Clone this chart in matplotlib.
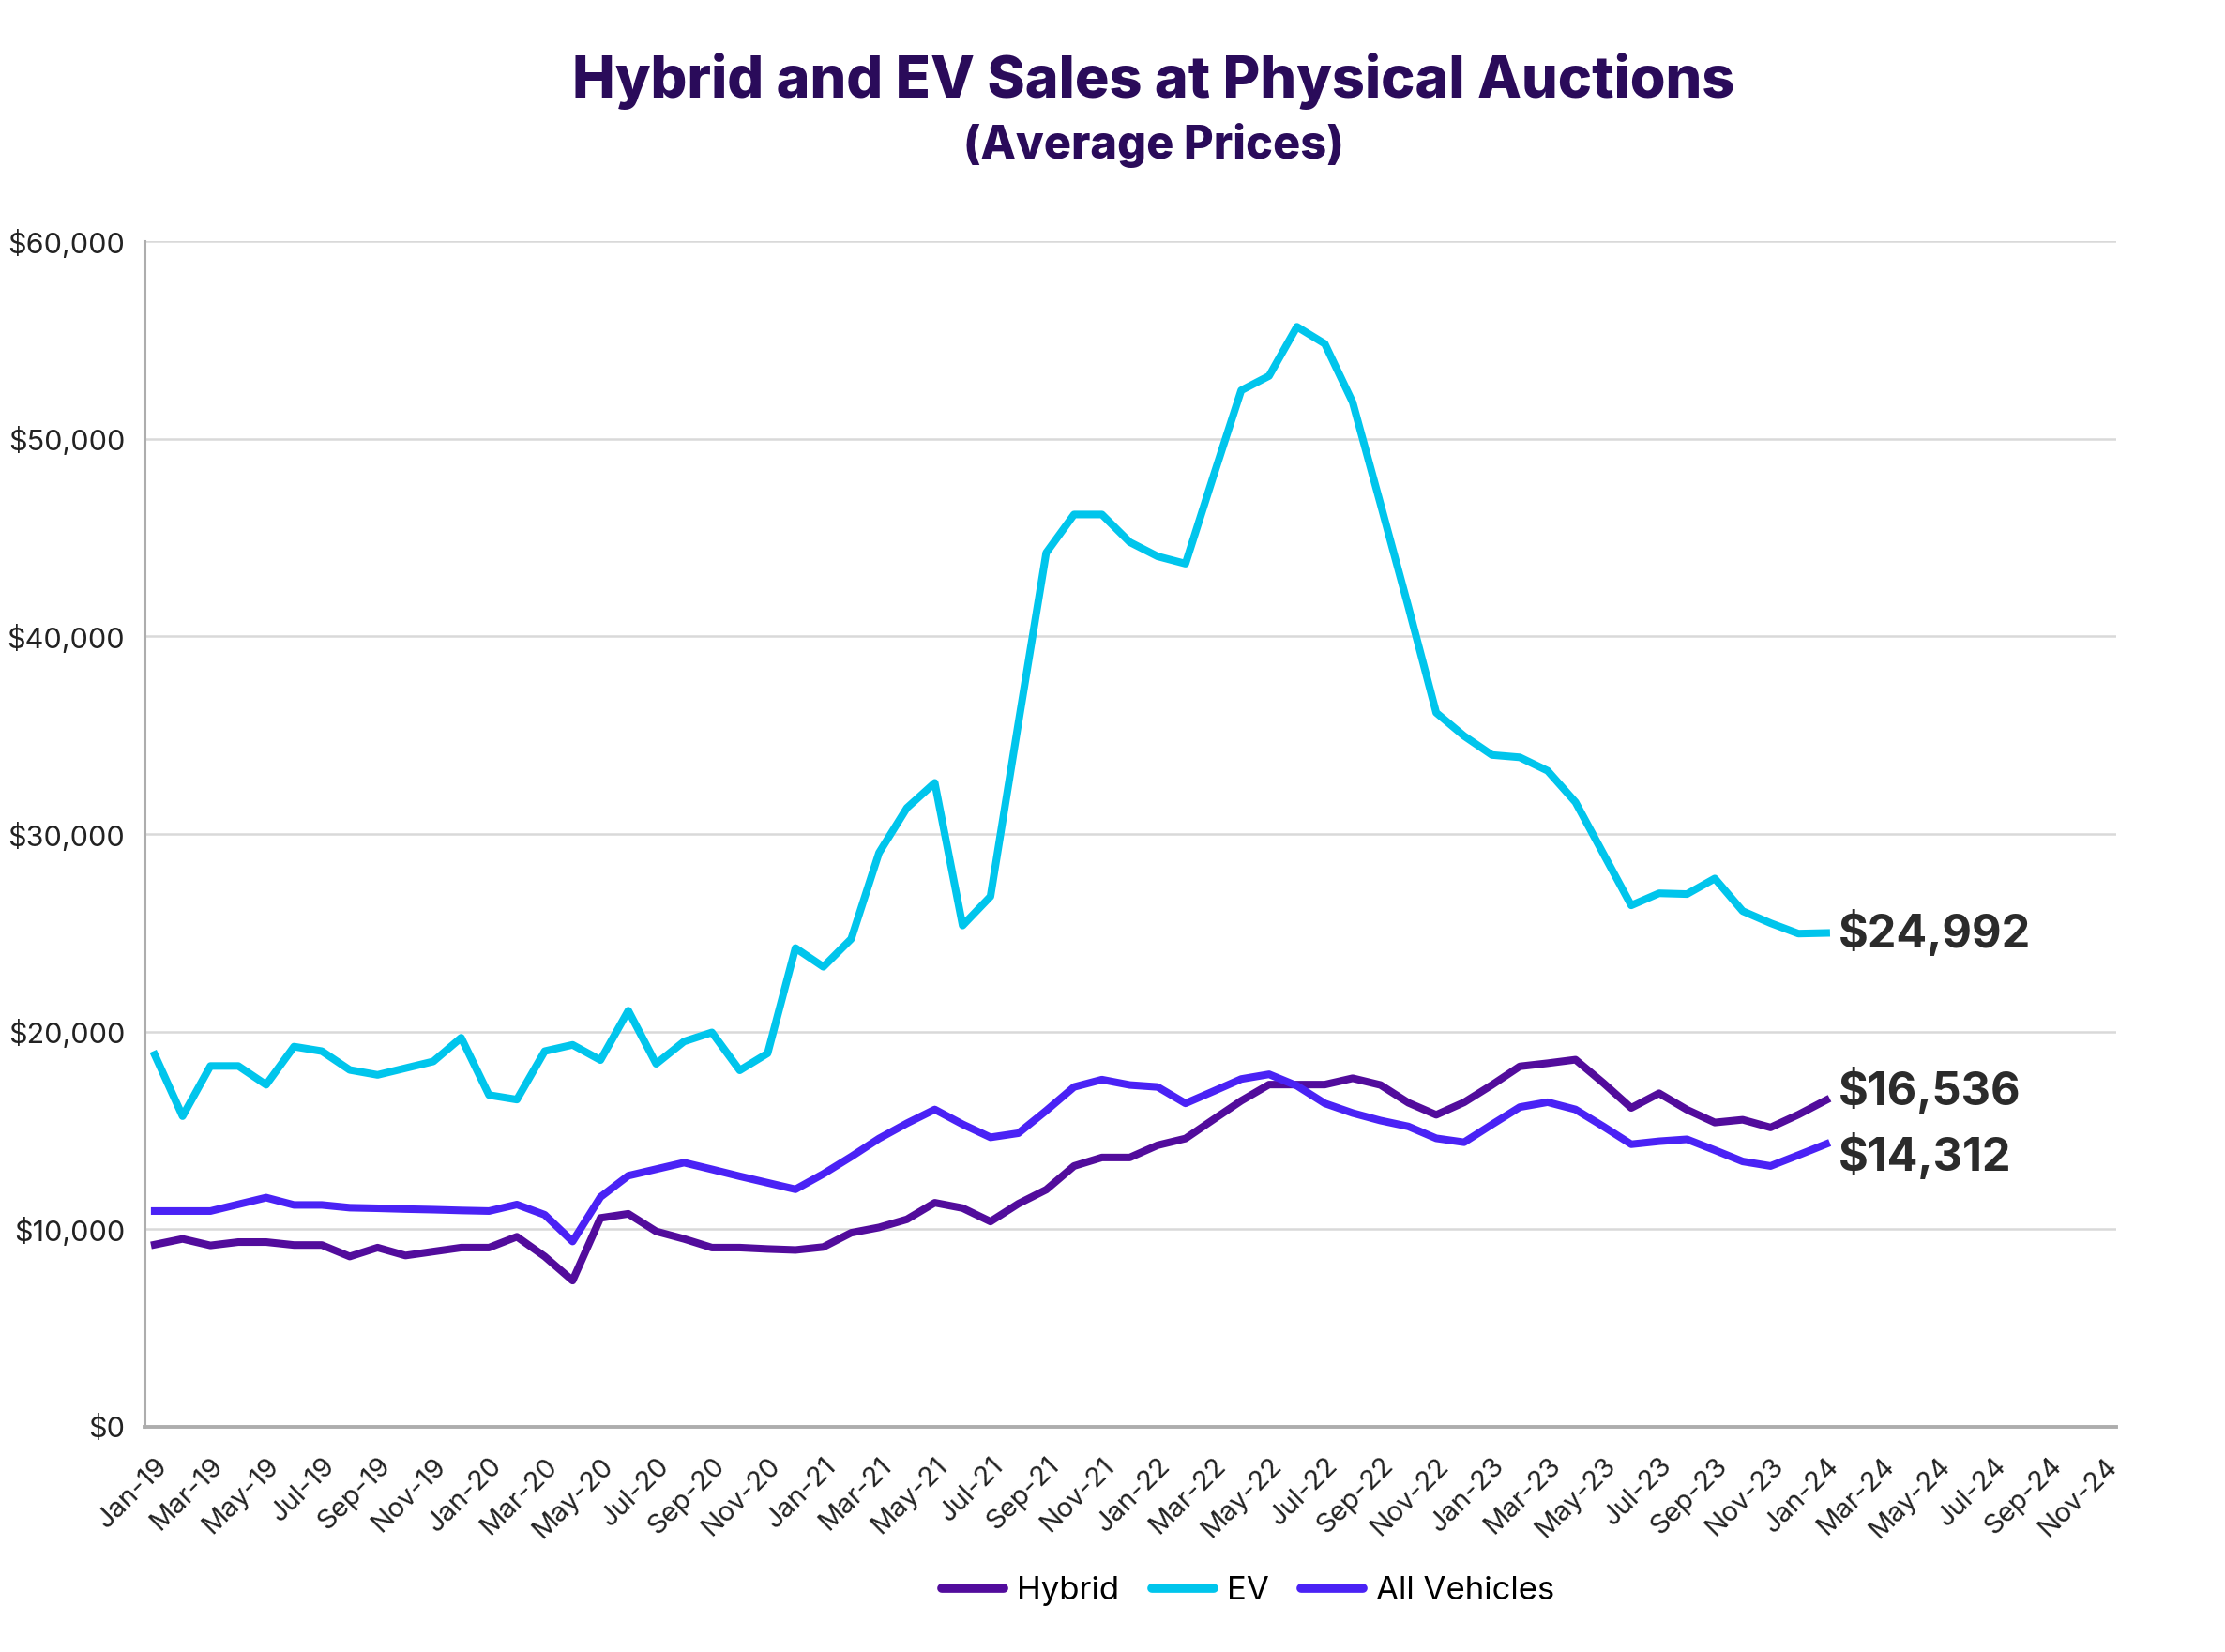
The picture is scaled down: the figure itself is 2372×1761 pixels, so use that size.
import numpy as np
import matplotlib.pyplot as plt
from matplotlib.transforms import ScaledTranslation

# Average prices (USD), monthly Jan-19 .. Jan-24
hybrid = [9220, 9510, 9180, 9350, 9350, 9200, 9200, 8620, 9070, 8670,
          8870, 9070, 9070, 9620, 8620, 7400, 10570, 10780, 9890, 9510,
          9070, 9070, 9000, 8950, 9100, 9820, 10090, 10500, 11340, 11070,
          10390, 11290, 12000, 13200, 13630, 13630, 14250, 14590, 15550, 16500,
          17320, 17320, 17320, 17640, 17300, 16400, 15790, 16420, 17300, 18240,
          18400, 18580, 17400, 16140, 16880, 16050, 15400, 15540, 15150, 15800,
          16536]

ev = [18830, 15720, 18260, 18260, 17310, 19240, 19010, 18060, 17810, 18150,
      18490, 19690, 16790, 16560, 19010, 19330, 18560, 21060, 18370, 19500,
      19960, 18040, 18900, 24230, 23280, 24690, 29050, 31320, 32590, 25370,
      26840, 35600, 44230, 46170, 46170, 44770, 44050, 43680, 48100, 52450,
      53180, 55670, 54810, 51850, 46700, 41500, 36140, 34960, 34000, 33880,
      33200, 31610, 29000, 26390, 27000, 26960, 27750, 26100, 25490, 24960,
      24992]

all_vehicles = [10920, 10920, 10920, 11260, 11600, 11230, 11230, 11090, 11060, 11020,
                10990, 10950, 10920, 11250, 10730, 9380, 11630, 12710, 13040, 13370,
                13030, 12680, 12350, 12020, 12800, 13670, 14590, 15360, 16060, 15310,
                14650, 14860, 16000, 17200, 17570, 17300, 17200, 16370, 16980, 17600,
                17840, 17260, 16370, 15880, 15500, 15200, 14600, 14400, 15300, 16180,
                16430, 16060, 15200, 14300, 14450, 14550, 14000, 13430, 13200, 13750,
                14312]

tick_labels = ['Jan-19', 'Mar-19', 'May-19', 'Jul-19', 'Sep-19', 'Nov-19',
               'Jan-20', 'Mar-20', 'May-20', 'Jul-20', 'Sep-20', 'Nov-20',
               'Jan-21', 'Mar-21', 'May-21', 'Jul-21', 'Sep-21', 'Nov-21',
               'Jan-22', 'Mar-22', 'May-22', 'Jul-22', 'Sep-22', 'Nov-22',
               'Jan-23', 'Mar-23', 'May-23', 'Jul-23', 'Sep-23', 'Nov-23',
               'Jan-24', 'Mar-24', 'May-24', 'Jul-24', 'Sep-24', 'Nov-24']

# colores
c_hybrid = '#520C9C'
c_ev = '#00C5EC'
c_all = '#4A22F5'
c_title = '#2A0B5A'
c_text = '#222222'

plt.rcParams['font.family'] = ['Inter', 'DejaVu Sans']

fig = plt.figure(figsize=(23.72, 17.61), dpi=100)
ax = fig.add_axes([0.0649, 0.1363, 0.8861, 0.7177])

meses = np.arange(len(ev))
ax.plot(meses, hybrid, color=c_hybrid, lw=5.8, label='Hybrid', solid_joinstyle='round')
ax.plot(meses, ev, color=c_ev, lw=5.8, label='EV', solid_joinstyle='round')
ax.plot(meses, all_vehicles, color=c_all, lw=5.8, label='All Vehicles', solid_joinstyle='round')

# etiquetas al final de cada serie
ultimo = len(ev) - 1
for serie, dy in [(ev, 0), (hybrid, 7), (all_vehicles, -10)]:
    ax.annotate('${:,.0f}'.format(serie[-1]), xy=(ultimo, serie[-1]),
                xytext=(9, dy), textcoords='offset points',
                ha='left', va='center', fontsize=35, fontweight='bold', color='#2B2B2B')

ax.set_xlim(-0.37, 70.4)
ax.set_ylim(0, 60000)
ax.set_yticks(np.arange(0, 60001, 10000))
ax.set_yticklabels(['${:,.0f}'.format(v) for v in np.arange(0, 60001, 10000)],
                   fontsize=22, color=c_text)
ax.set_xticks(np.arange(0, 2 * len(tick_labels), 2))
ax.set_xticklabels(tick_labels, rotation=45, ha='right', rotation_mode='anchor',
                   fontsize=21, color=c_text)
desplazar = ScaledTranslation(18 / 72, -2 / 72, fig.dpi_scale_trans)
for lbl in ax.get_xticklabels():
    lbl.set_transform(lbl.get_transform() + desplazar)

ax.tick_params(axis='both', length=0)
ax.tick_params(axis='y', pad=15)
ax.tick_params(axis='x', pad=20)

ax.grid(axis='y', color='#D9D9D9', lw=1.8)
ax.set_axisbelow(True)
for lado in ['top', 'right']:
    ax.spines[lado].set_visible(False)
ax.spines['left'].set_color('#ADADAD')
ax.spines['left'].set_linewidth(2.2)
ax.spines['bottom'].set_color('#ADADAD')
ax.spines['bottom'].set_linewidth(2.8)

fig.text(0.5186, 0.951, 'Hybrid and EV Sales at Physical Auctions', ha='center', va='center',
         fontsize=44, fontweight=800, color=c_title)
fig.text(0.5186, 0.912, '(Average Prices)', ha='center', va='center',
         fontsize=35, fontweight=800, color=c_title)

fig.legend(loc='center', bbox_to_anchor=(0.561, 0.037), ncol=3, frameon=False,
           fontsize=25, handlelength=1.9, handletextpad=0.4, columnspacing=1.0)
for l in fig.legends[0].get_lines():
    l.set_linewidth(7)
    l.set_solid_capstyle('round')

fig.savefig('out.png', dpi=100)
